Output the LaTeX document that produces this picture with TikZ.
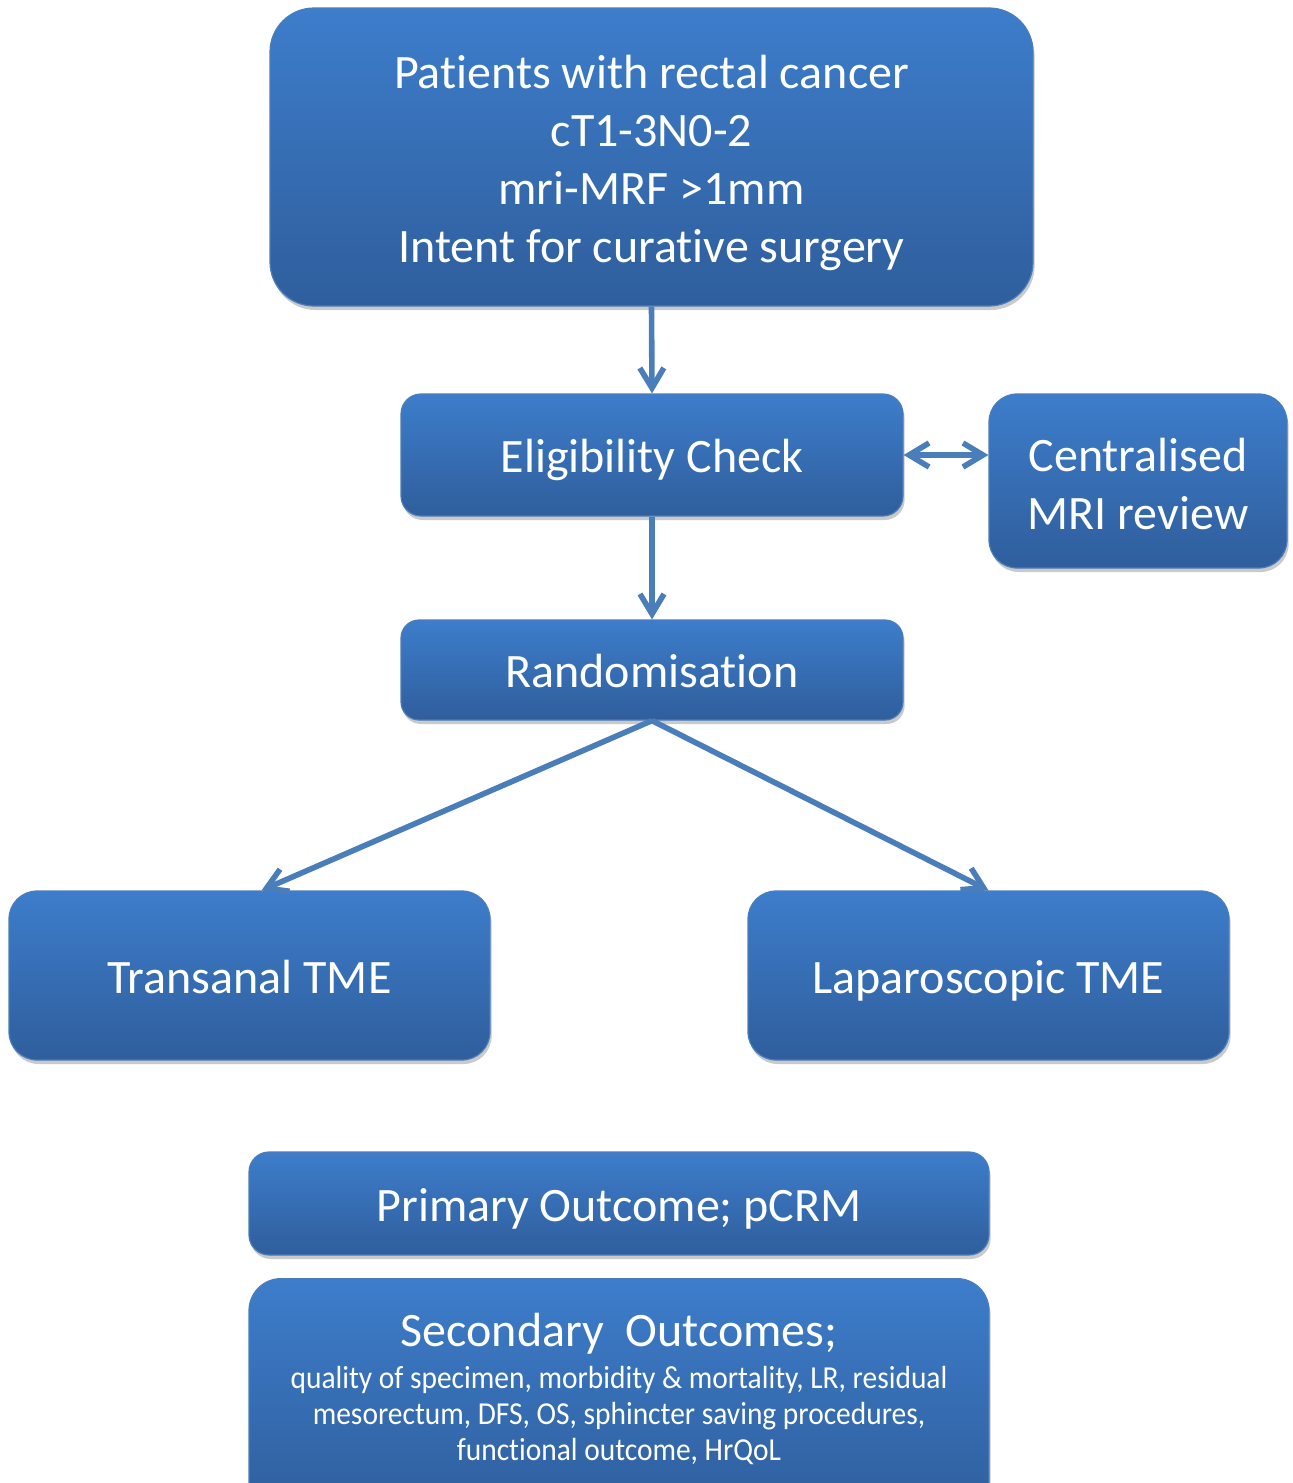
\documentclass[tikz,border=0pt]{standalone}
\usepackage{fontspec}
\setmainfont{Carlito}[RawFeature={-liga;-clig;-calt;-dlig}]
\usetikzlibrary{arrows.meta,shadows,calc}
\definecolor{boxtop}{HTML}{3D7DCB}
\definecolor{boxbot}{HTML}{2F5E9C}
\definecolor{boxline}{HTML}{4A7EBB}
\definecolor{arr}{HTML}{4A7EBB}
\tikzset{
  box/.style={rectangle, rounded corners=#1, top color=boxtop, bottom color=boxbot,
    draw=boxline, line width=0.6pt, text=white, align=center, inner sep=0pt,
    font=\fontsize{24}{29}\selectfont,
    drop shadow={shadow xshift=0.8pt, shadow yshift=-2pt, opacity=0.35, fill=black!60}},
  box/.default=10pt,
  oneline/.style={text height=17.5pt, text depth=0pt},
  boxtext/.style={text=white, align=center, inner sep=0pt, font=\fontsize{24}{29}\selectfont},
  tipb/.tip={Straight Barb[length=10pt,width=12pt,line width=2.8pt]},
  conn/.style={draw=arr, line width=2.8pt, -tipb},
}
\begin{document}
\begin{tikzpicture}[x=0.5pt,y=-0.5pt]
\useasboundingbox (0,0) rectangle (1292,1483);
\clip (0,0) rectangle (1292,1483);
\node[box=22pt, minimum width=381.5pt, minimum height=149pt] (top) at (651.5,157) {};
\node[boxtext] (toptxt) at (651.5,162.5)
  {Patients with rectal cancer\\cT1-3N0-2\\mri-MRF >1mm\\Intent for curative surgery};
\node[box=10pt, oneline, minimum width=251pt, minimum height=61pt] (elig) at (652,455) {Eligibility Check};
\node[box=14pt, minimum width=149pt, minimum height=87pt] (mri) at (1138,481) {};
\node[boxtext] (mritxt) at (1138,484) {Centralised\\MRI review};
\node[box=9pt, oneline, minimum width=251pt, minimum height=50pt] (rand) at (652,670) {Randomisation};
\node[box=14pt, oneline, minimum width=240.5pt, minimum height=84.5pt] (tr) at (249.5,975.5) {Transanal TME};
\node[box=14pt, oneline, minimum width=240.5pt, minimum height=84.5pt] (lp) at (988.5,975.5) {Laparoscopic TME};
\node[box=10pt, oneline, minimum width=370pt, minimum height=51.5pt] (prim) at (619,1203.5) {Primary Outcome; pCRM};
\node[box=16pt, minimum width=370pt, minimum height=120pt, anchor=north] (sec) at (619,1278) {};
\node[boxtext, anchor=north] (sect) at (619,1313) {Secondary\ \ Outcomes;};
\node[boxtext, anchor=north, font=\fontsize{16}{18}\selectfont] (secb) at (619,1366)
  {\scalebox{0.92}[1]{quality of specimen, morbidity \& mortality, LR, residual}\\
   \scalebox{0.92}[1]{mesorectum, DFS, OS, sphincter saving procedures,}\\
   \scalebox{0.92}[1]{functional outcome, HrQoL}};
\draw[conn] (top.south) -- (elig.north);
\draw[conn] (elig.south) -- (rand.north);
\draw[conn, tipb-tipb] (elig.east) -- (elig.east -| mri.west);
\coordinate (trt) at ($(tr.north)+(12,0)$);
\draw[conn] (rand.south) -- (trt);
\draw[conn] (rand.south) -- (lp.north);
\end{tikzpicture}
\end{document}
